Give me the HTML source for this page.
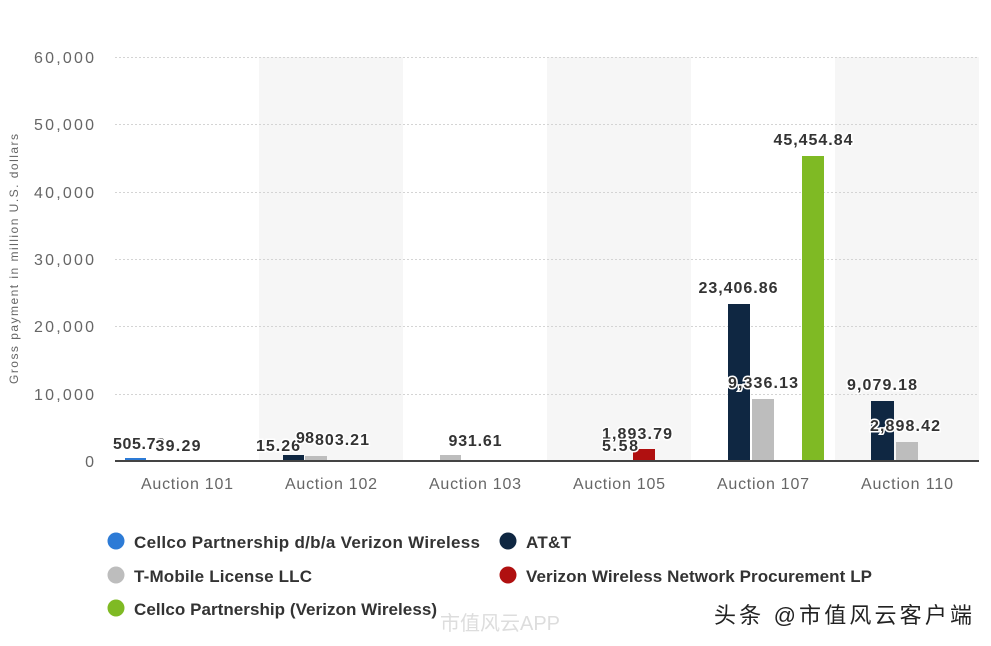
<!DOCTYPE html>
<html><head><meta charset="utf-8"><style>
body{margin:0;background:#fff;width:991px;height:646px;overflow:hidden;font-family:"Liberation Sans","Noto Sans CJK SC",sans-serif}
</style></head><body>
<svg width="991" height="646" xmlns="http://www.w3.org/2000/svg" style="position:absolute;left:0;top:0">
<g fill="#f6f6f6">
<rect x="259" y="57" width="144" height="404"/>
<rect x="547" y="57" width="144" height="404"/>
<rect x="835" y="57" width="144" height="404"/>
</g>
<g stroke="#d4d4d4" stroke-dasharray="2,2" stroke-width="1">
<line x1="115" x2="979" y1="57.5" y2="57.5"/>
<line x1="115" x2="979" y1="124.5" y2="124.5"/>
<line x1="115" x2="979" y1="192.5" y2="192.5"/>
<line x1="115" x2="979" y1="259.5" y2="259.5"/>
<line x1="115" x2="979" y1="326.5" y2="326.5"/>
<line x1="115" x2="979" y1="394.5" y2="394.5"/>
</g>
<g font-size="16" fill="#666" text-anchor="end">
<text x="94" y="63" textLength="60">60,000</text>
<text x="94" y="130" textLength="60">50,000</text>
<text x="94" y="198" textLength="60">40,000</text>
<text x="94" y="265" textLength="60">30,000</text>
<text x="94" y="332" textLength="60">20,000</text>
<text x="94" y="400" textLength="60">10,000</text>
<text x="94" y="467">0</text>
</g>
<text transform="translate(18,259) rotate(-90)" font-size="12" fill="#666" text-anchor="middle" textLength="250">Gross payment in million U.S. dollars</text>
<rect x="125" y="458" width="21" height="3" fill="#2d7bd6"/>
<rect x="283" y="455" width="21" height="6" fill="#0f2742"/>
<rect x="305" y="456" width="22" height="5" fill="#bdbdbd"/>
<rect x="440" y="455" width="21" height="6" fill="#bdbdbd"/>
<rect x="633" y="449" width="22" height="12" fill="#b01010"/>
<rect x="728" y="304" width="22" height="157" fill="#0f2742"/>
<rect x="752" y="399" width="22" height="62" fill="#bdbdbd"/>
<rect x="802" y="156" width="22" height="305" fill="#7fba24"/>
<rect x="871" y="401" width="23" height="60" fill="#0f2742"/>
<rect x="896" y="442" width="22" height="19" fill="#bdbdbd"/>
<line x1="115" x2="979" y1="461" y2="461" stroke="#444" stroke-width="2"/>
<g font-size="16" fill="#666" text-anchor="middle">
<text x="187" y="489" textLength="92">Auction 101</text>
<text x="331" y="489" textLength="92">Auction 102</text>
<text x="475" y="489" textLength="92">Auction 103</text>
<text x="619" y="489" textLength="92">Auction 105</text>
<text x="763" y="489" textLength="92">Auction 107</text>
<text x="907" y="489" textLength="92">Auction 110</text>
</g>
<g font-size="16" font-weight="bold" fill="#333" text-anchor="middle" stroke="#fff" stroke-width="3" paint-order="stroke">
<text x="139" y="449" textLength="52">505.73</text>
<text x="178" y="451" textLength="45">39.29</text>
<text x="278" y="451" textLength="44">15.26</text>
<text x="305" y="443" textLength="18">98</text>
<text x="342" y="445" textLength="54">803.21</text>
<text x="475" y="446" textLength="53">931.61</text>
<text x="637" y="439" textLength="70">1,893.79</text>
<text x="620" y="451" textLength="36">5.58</text>
<text x="738" y="293" textLength="79">23,406.86</text>
<text x="763" y="388" textLength="70">9,336.13</text>
<text x="813" y="145" textLength="79">45,454.84</text>
<text x="882" y="390" textLength="70">9,079.18</text>
<text x="905" y="431" textLength="70">2,898.42</text>
</g>
<g font-size="17" font-weight="bold" fill="#333">
<circle cx="116" cy="541" r="8.5" fill="#2d7bd6"/><text x="134" y="548" textLength="346">Cellco Partnership d/b/a Verizon Wireless</text>
<circle cx="508" cy="541" r="8.5" fill="#0f2742"/><text x="526" y="548" textLength="45">AT&amp;T</text>
<circle cx="116" cy="575" r="8.5" fill="#bdbdbd"/><text x="134" y="582" textLength="178">T-Mobile License LLC</text>
<circle cx="508" cy="575" r="8.5" fill="#b01010"/><text x="526" y="582" textLength="346">Verizon Wireless Network Procurement LP</text>
<circle cx="116" cy="608" r="8.5" fill="#7fba24"/><text x="134" y="615" textLength="303">Cellco Partnership (Verizon Wireless)</text>
</g>
<text x="440" y="630" font-size="20" fill="#ddd">市值风云APP</text>
<text x="714" y="623" font-size="22" fill="#222" textLength="258">头条 @市值风云客户端</text>
</svg>
</body></html>
